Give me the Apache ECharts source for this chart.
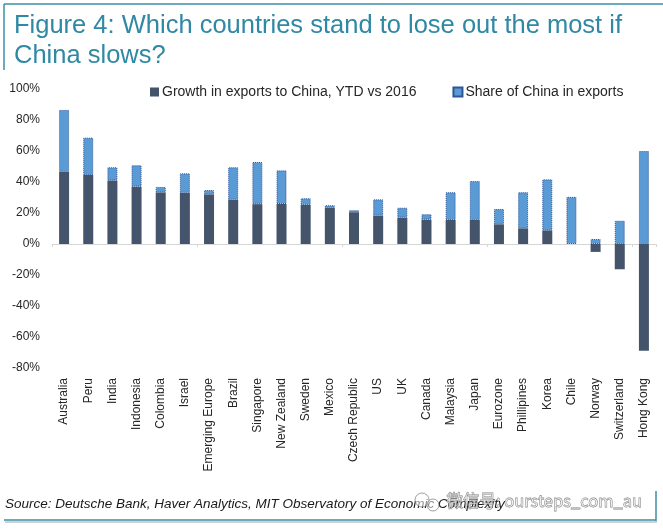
<!DOCTYPE html>
<html>
<head>
<meta charset="utf-8">
<script src="https://cdn.jsdelivr.net/npm/echarts@6/dist/echarts.min.js"></script>
<style>
html,body{margin:0;padding:0;background:#fff;}
#chart{width:663px;height:529px;}
</style>
</head>
<body>
<div id="chart"></div>
<script>
var categories = ['Australia','Peru','India','Indonesia','Colombia','Israel','Emerging Europe','Brazil','Singapore','New Zealand','Sweden','Mexico','Czech Republic','US','UK','Canada','Malaysia','Japan','Eurozone','Phillipines','Korea','Chile','Norway','Switzerland','Hong Kong'];
var growthExports = [46.5, 44.5, 41, 37, 33.3, 33, 32, 28.5, 25.7, 25.8, 25.2, 23.3, 20.5, 18.3, 17, 15.7, 15.5, 15.5, 12.7, 10.1, 8.8, 0, -5.1, -16.3, -68.8];
var shareChina = [40, 24.1, 8.5, 13.8, 3.5, 12.6, 2.8, 21, 27.2, 21.7, 4.3, 1.7, 1.3, 10.5, 6.4, 3.5, 17.9, 25.1, 9.9, 23.3, 32.9, 30.4, 3.2, 15, 60];
var seriesNames = ['Growth in exports to China, YTD vs 2016', 'Share of China in exports'];
var titleLines = ['Figure 4: Which countries stand to lose out the most if', 'China slows?'];
var sourceText = 'Source: Deutsche Bank, Haver Analytics, MIT Observatory of Economic Complexity';
var watermarkText = '微信号: oursteps_com_au';

var chart = echarts.init(document.getElementById('chart'), null, {renderer: 'canvas'});
var teal = '#3d8ea8';
var option = {
  animation: false,
  backgroundColor: '#ffffff',
  grid: {left: 52, right: 7, top: 89, bottom: 161, containLabel: false},
  legend: {
    left: 145, top: 80, itemWidth: 9, itemHeight: 9, itemGap: 36, icon: 'rect',
    textStyle: {fontFamily: 'Liberation Sans, Arial', fontSize: 14, color: '#262626', padding: [0,0,0,-2]},
    data: seriesNames
  },
  xAxis: [
    {
      type: 'category', data: categories,
      axisLine: {onZero: true, lineStyle: {color: '#d6d6d6', width: 1}},
      axisTick: {show: true, length: 3, lineStyle: {color: '#d6d6d6'}},
      axisLabel: {show: false}
    },
    {
      type: 'category', data: categories, position: 'bottom',
      axisLine: {show: false, onZero: false},
      axisTick: {show: false},
      axisLabel: {rotate: 90, interval: 0, margin: 10, fontFamily: 'Liberation Sans, Arial', fontSize: 12, color: '#262626'}
    }
  ],
  yAxis: {
    type: 'value', min: -80, max: 100, interval: 20,
    axisLine: {show: false}, axisTick: {show: false}, splitLine: {show: false},
    axisLabel: {formatter: '{value}%', margin: 12, fontFamily: 'Liberation Sans, Arial', fontSize: 12, color: '#262626'}
  },
  series: [
    {
      name: seriesNames[0], type: 'bar', stack: 'total', xAxisIndex: 0,
      barWidth: 10, data: growthExports,
      itemStyle: {color: '#44546a'}
    },
    {
      name: seriesNames[1], type: 'bar', stack: 'total', xAxisIndex: 0,
      barWidth: 10, data: shareChina,
      itemStyle: {color: '#5b9bd5', borderColor: '#2f5597', borderWidth: 1, borderType: 'dotted'}
    }
  ],
  graphic: [
    {type: 'line', shape: {x1: 4, y1: 4, x2: 663, y2: 4}, style: {stroke: teal, lineWidth: 1.5}},
    {type: 'line', shape: {x1: 4, y1: 4, x2: 4, y2: 70}, style: {stroke: teal, lineWidth: 1.5}},
    {type: 'text', left: 14, top: 13, style: {text: titleLines[0], font: '25.5px "Liberation Sans", Arial', fill: '#2f88a4'}},
    {type: 'text', left: 14, top: 43, style: {text: titleLines[1], font: '25.5px "Liberation Sans", Arial', fill: '#2f88a4'}},
    {type: 'text', left: 5, top: 497, style: {text: sourceText, font: 'italic 13.5px "Liberation Sans", Arial', fill: '#1a1a1a'}},
    {type: 'circle', shape: {cx: 422, cy: 500, r: 7}, style: {fill: 'rgba(255,255,255,0.5)', stroke: 'rgba(120,120,120,0.7)', lineWidth: 1}},
    {type: 'circle', shape: {cx: 433, cy: 505, r: 6}, style: {fill: 'rgba(255,255,255,0.5)', stroke: 'rgba(120,120,120,0.7)', lineWidth: 1}},
    {type: 'text', left: 446, top: 492, style: {text: watermarkText, font: '16.5px "Noto Sans CJK SC"', fill: 'rgba(255,255,255,0.5)', stroke: 'rgba(110,110,110,0.85)', lineWidth: 0.8}},
    {type: 'line', shape: {x1: 5, y1: 522, x2: 657, y2: 522}, style: {stroke: '#c8d4d8', lineWidth: 2}},
    {type: 'line', shape: {x1: 4, y1: 520, x2: 656, y2: 520}, style: {stroke: teal, lineWidth: 1.5}},
    {type: 'line', shape: {x1: 656, y1: 491, x2: 656, y2: 521}, style: {stroke: teal, lineWidth: 1.5}}
  ]
};
chart.setOption(option);
</script>
</body>
</html>
